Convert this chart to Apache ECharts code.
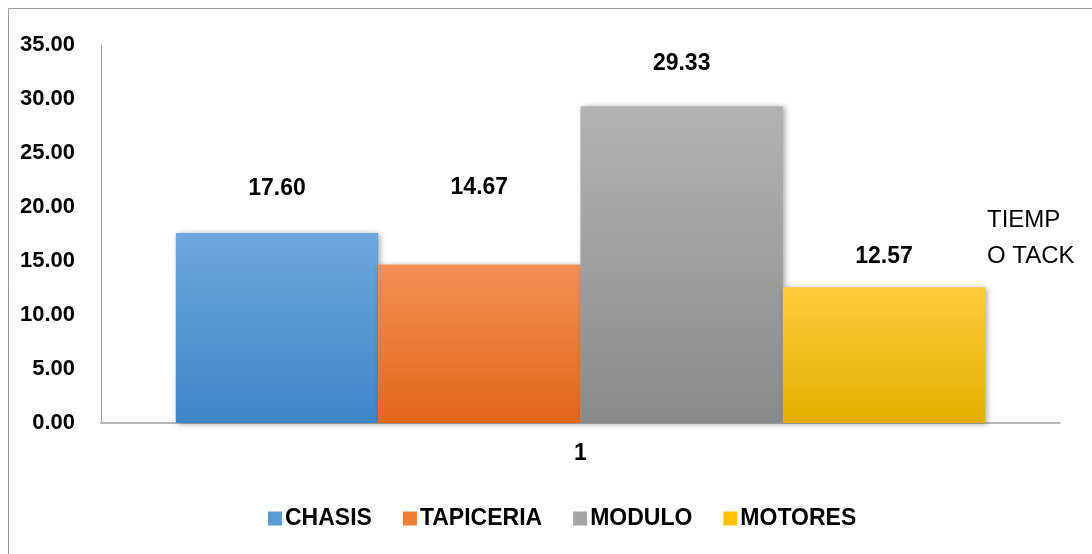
<!DOCTYPE html>
<html>
<head>
<meta charset="utf-8">
<script src="https://cdn.jsdelivr.net/npm/echarts@6/dist/echarts.min.js"></script>
<style>
  html, body { margin: 0; padding: 0; background: #fff; }
  #chart { width: 1092px; height: 554px; }
</style>
</head>
<body>
<div id="chart"></div>
<script>
// Cycle-time per production area
const categories = ['1'];
const seriesNames = ['CHASIS', 'TAPICERIA', 'MODULO', 'MOTORES'];
const chasis = [17.60];
const tapiceria = [14.67];
const modulo = [29.33];
const motores = [12.57];
const yTicks = { min: 0, max: 35, interval: 5 };

const seriesValues = [chasis, tapiceria, modulo, motores];
const gradients = [
  ['#6ea6dd', '#3f86c7'],
  ['#f48f55', '#e2661a'],
  ['#b3b3b3', '#8a8a8a'],
  ['#ffcb3c', '#e4b000']
];
const legendColors = ['#5b9bd5', '#ed7d31', '#a5a5a5', '#ffc000'];
// gap between each bar top and its value label
const labelDistances = [33, 65, 31, 19];

const fontMain = '"Liberation Sans Narrow", "Liberation Sans", Arial, sans-serif';

const chart = echarts.init(document.getElementById('chart'));

const series = seriesNames.map((name, i) => ({
  name,
  type: 'bar',
  data: seriesValues[i],
  barGap: '0%',
  barCategoryGap: '15.6%',
  itemStyle: {
    color: new echarts.graphic.LinearGradient(0, 0, 0, 1, [
      { offset: 0, color: gradients[i][0] },
      { offset: 1, color: gradients[i][1] }
    ]),
    shadowColor: 'rgba(0,0,0,0.35)',
    shadowBlur: 6,
    shadowOffsetX: 2,
    shadowOffsetY: 1
  },
  label: {
    show: true,
    position: 'top',
    distance: labelDistances[i],
    formatter: p => p.value.toFixed(2),
    color: '#000',
    fontFamily: fontMain,
    fontWeight: 'bold',
    fontSize: 23
  }
}));

chart.setOption({
  animation: false,
  backgroundColor: '#fff',
  grid: { left: 101, right: 32, top: 45, bottom: 131, containLabel: false },
  legend: {
    bottom: 19,
    left: 263,
    itemWidth: 14,
    itemHeight: 14,
    itemGap: 31,
    icon: 'rect',
    data: seriesNames.map((n, i) => ({ name: n, itemStyle: { color: legendColors[i] } })),
    textStyle: {
      fontFamily: fontMain,
      fontWeight: 'bold',
      fontSize: 23,
      color: '#000',
      padding: [0, 0, 0, -2]
    }
  },
  xAxis: {
    type: 'category',
    data: categories,
    axisLine: { lineStyle: { color: '#a0a0a0', width: 1.5 } },
    axisTick: { show: false },
    axisLabel: {
      color: '#000',
      fontFamily: fontMain,
      fontWeight: 'bold',
      fontSize: 23,
      margin: 19
    }
  },
  yAxis: {
    type: 'value',
    min: yTicks.min,
    max: yTicks.max,
    interval: yTicks.interval,
    axisLine: { show: true, lineStyle: { color: '#a0a0a0', width: 1 } },
    axisTick: { show: false },
    splitLine: { show: false },
    axisLabel: {
      color: '#000',
      fontFamily: fontMain,
      fontWeight: 'bold',
      fontSize: 22,
      margin: 26,
      formatter: v => v.toFixed(2)
    }
  },
  graphic: [
    {
      type: 'rect',
      silent: true,
      shape: { x: 8.5, y: 8.5, width: 1200, height: 700 },
      style: { fill: 'none', stroke: '#9a9a9a', lineWidth: 1 }
    },
    {
      type: 'text',
      left: 987,
      top: 202,
      silent: true,
      style: {
        text: 'TIEMP\nO TACK',
        fill: '#000',
        fontFamily: fontMain,
        fontSize: 24,
        lineHeight: 36
      }
    }
  ],
  series
});
</script>
</body>
</html>
